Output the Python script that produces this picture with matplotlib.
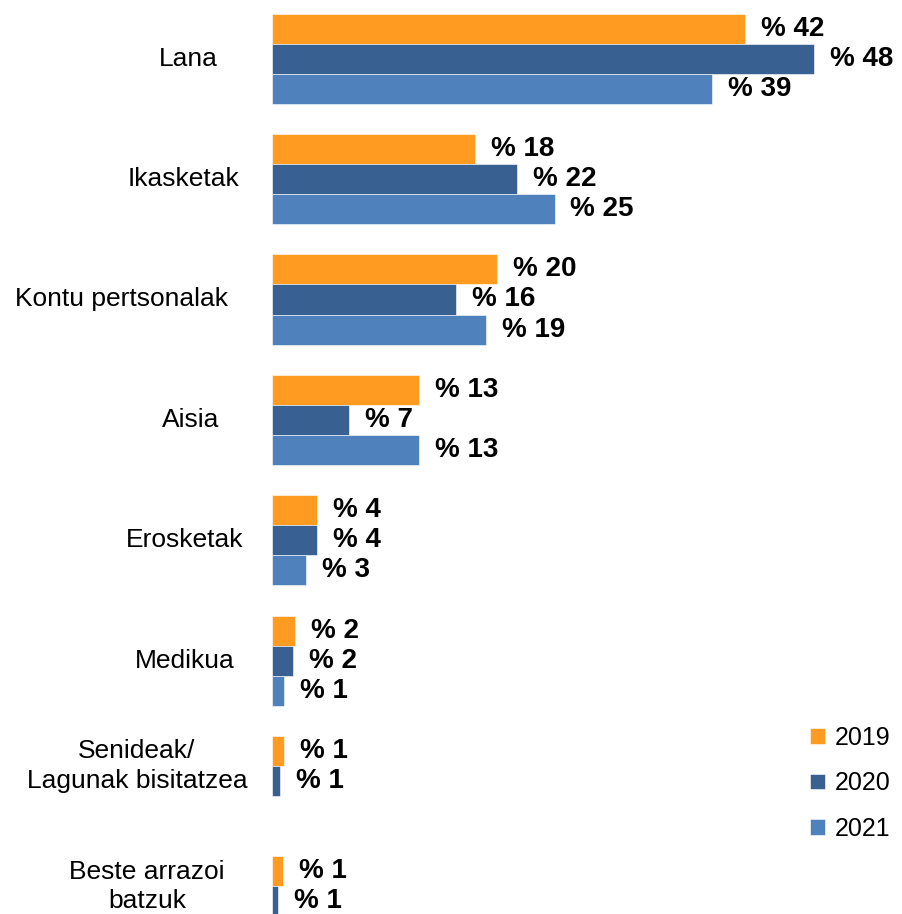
import numpy as np
import matplotlib
matplotlib.use('Agg')
import matplotlib.pyplot as plt
import matplotlib.transforms as mtransforms

# Data (percent)
categories = ["Lana", "Ikasketak", "Kontu pertsonalak", "Aisia", "Erosketak",
              "Medikua", "Senideak/\nLagunak bisitatzea", "Beste arrazoi\nbatzuk"]
years = ["2019", "2020", "2021"]
values_2019 = [41.9, 18.0, 19.9, 13.0, 4.0, 2.0, 1.05, 1.0]
values_2020 = [48.0, 21.7, 16.3, 6.8, 4.0, 1.9, 0.7, 0.55]
values_2021 = [38.9, 25.0, 18.9, 13.0, 3.0, 1.1, np.nan, np.nan]

colors = ["#FF9B21", "#386192", "#4F81BD"]

# horizontal centre (figure px) of each category label, as in the reference
label_x_px = [188, 183, 121, 191, 185, 185, 137, 147]

plt.rcParams['font.family'] = ['Liberation Sans', 'DejaVu Sans']

W, H, DPI = 902, 914, 100
fig = plt.figure(figsize=(W / DPI, H / DPI), dpi=DPI, facecolor='white')

left_px = 272
px_per_unit_x = 11.3
px_per_cat = 120.4
bar_h = 0.25
top_px = 13.5

ax = fig.add_axes([left_px / W, 0, 1 - left_px / W, 1])
ax.set_xlim(0, (W - left_px) / px_per_unit_x)
y_top = -1.5 * bar_h - top_px / px_per_cat
ax.set_ylim(y_top + H / px_per_cat, y_top)
ax.axis('off')

series = [values_2019, values_2020, values_2021]
ypos = np.arange(len(categories))
offset = 16 / px_per_unit_x  # gap between bar end and its label

for j, (vals, col, yr) in enumerate(zip(series, colors, years)):
    vals = np.array(vals, dtype=float)
    yy = ypos + (j - 1) * bar_h
    ok = ~np.isnan(vals)
    ax.barh(yy[ok], vals[ok], height=bar_h, color=col, edgecolor='white',
            linewidth=0.4, label=yr)
    for y, v in zip(yy[ok], vals[ok]):
        ax.text(v + offset, y, f"% {int(v + 0.5)}", ha='left', va='center',
                fontsize=20, fontweight='bold', color='black')

# category labels, centred on the bars that are present
label_trans = mtransforms.blended_transform_factory(fig.transFigure, ax.transData)
for i, cat in enumerate(categories):
    present = [j for j in range(3) if not np.isnan(series[j][i])]
    yc = i + np.mean([(j - 1) * bar_h for j in present])
    ax.text(label_x_px[i] / W, yc, cat, ha='center', va='center', fontsize=19,
            linespacing=1.3, transform=label_trans)

leg = fig.legend(loc='upper left', bbox_to_anchor=(800 / W, 1 - 716 / H),
                 frameon=False, fontsize=18, handlelength=0.6, handleheight=0.6,
                 handletextpad=0.4, labelspacing=0.85, borderaxespad=0)

fig.savefig('out.png', dpi=DPI, facecolor='white')
